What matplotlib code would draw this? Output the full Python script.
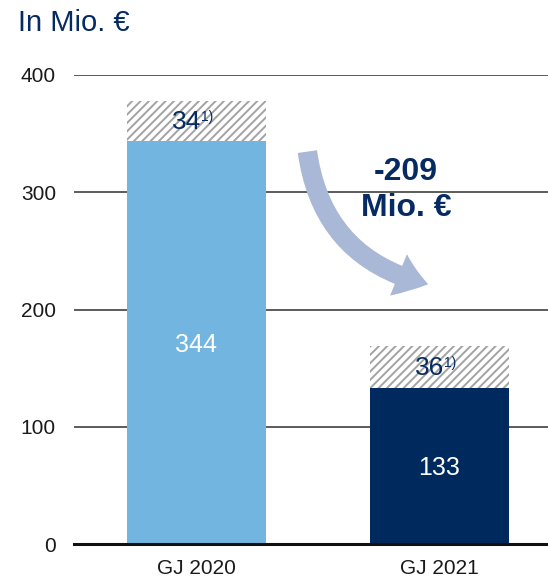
import matplotlib.pyplot as plt
import matplotlib
from matplotlib.patches import FancyArrowPatch

plt.rcParams['font.family'] = ['Liberation Sans', 'DejaVu Sans']
plt.rcParams['hatch.color'] = '#a3a3a3'
plt.rcParams['hatch.linewidth'] = 1.4

# data
years = ['GJ 2020', 'GJ 2021']
base_values = [344, 133]
extra_values = [34, 36]
change_label = '-209\nMio. €'

NAVY = '#062b63'
bar_colors = ['#72b5e0', '#002a5e']

fig = plt.figure(figsize=(5.48, 5.79), dpi=100)
ax = fig.add_axes([74 / 548, 35 / 579, 1 - 74 / 548, 469 / 579])

x = list(range(len(years)))
ax.bar(x, base_values, width=0.572, color=bar_colors, zorder=2)
ax.bar(x, extra_values, width=0.572, bottom=base_values, color='white',
       edgecolor='#a3a3a3', hatch='////', linewidth=0, zorder=2)

for i in x:
    ax.text(i, base_values[i] / 2 - 2, str(base_values[i]), color='white',
            fontsize=18, ha='center', va='center', zorder=3)
    ytop = base_values[i] + extra_values[i] / 2
    ax.text(i + 0.02, ytop - 1, str(extra_values[i]), color=NAVY, fontsize=19,
            ha='right', va='center', zorder=3)
    ax.text(i + 0.02, ytop + 3, '1)', color=NAVY, fontsize=10,
            ha='left', va='center', zorder=3)

ax.set_xlim(-0.504, 1.447)
ax.set_ylim(0, 400)
ax.set_yticks([0, 100, 200, 300, 400])
ax.set_xticks(x)
ax.set_xticklabels(years)
ax.tick_params(axis='both', length=0, labelsize=15, colors='#1a1a1a')
ax.tick_params(axis='y', pad=13)
ax.tick_params(axis='x', pad=11)
for s in ax.spines.values():
    s.set_visible(False)
for yv in [100, 200, 300, 400]:
    ax.axhline(yv, color='#3f3f3f', linewidth=1.2, zorder=1)
ax.axhline(0, color='#111111', linewidth=2.2, zorder=4, clip_on=False)

arrow = FancyArrowPatch((0.455, 337), (0.965, 221),
                        connectionstyle='arc3,rad=0.35',
                        arrowstyle='simple,head_width=2.3,head_length=1.6,tail_width=1.0',
                        mutation_scale=14, color='#a8b8d6', linewidth=0, zorder=3)
ax.add_patch(arrow)

ax.text(0.862, 302, change_label, color=NAVY, fontsize=23, fontweight='bold',
        ha='center', va='center', linespacing=1.25, zorder=3)

fig.text(18 / 548, 1 - 23 / 579, 'In Mio. €', color=NAVY, fontsize=21,
         ha='left', va='center')

plt.savefig('out.png', dpi=100)
plt.close()
